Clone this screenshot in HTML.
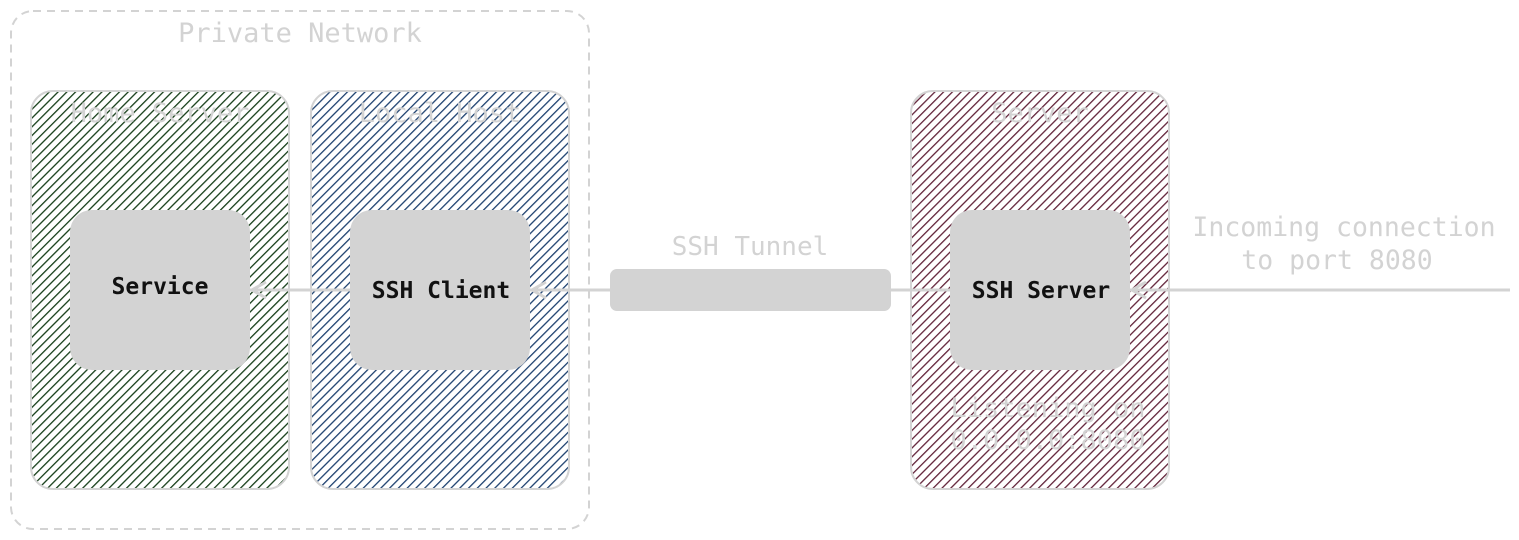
<!DOCTYPE html>
<html><head><meta charset="utf-8"><style>
html,body{margin:0;padding:0;background:#fff;}
svg{display:block;}
text{font-family:"DejaVu Sans Mono","Liberation Mono",monospace;}
</style></head><body>
<svg width="1519" height="540" viewBox="0 0 1519 540" xmlns="http://www.w3.org/2000/svg">
<defs>
<pattern id="hg" patternUnits="userSpaceOnUse" width="6.2" height="6.2" patternTransform="rotate(45)"><rect x="0" y="0" width="1.3" height="6.2" fill="#173f1a"/></pattern>
<pattern id="hb" patternUnits="userSpaceOnUse" width="6.2" height="6.2" patternTransform="rotate(45)"><rect x="0" y="0" width="1.3" height="6.2" fill="#1f4270"/></pattern>
<pattern id="hm" patternUnits="userSpaceOnUse" width="6.2" height="6.2" patternTransform="rotate(45)"><rect x="0" y="0" width="1.3" height="6.2" fill="#62243a"/></pattern>
</defs>
<rect x="11" y="11" width="578" height="518" rx="22" fill="none" stroke="#d3d3d3" stroke-width="2" stroke-dasharray="8,6"/>
<text x="300" y="42" font-size="27" fill="#d3d3d3" text-anchor="middle">Private Network</text>

<rect x="31" y="91" width="258" height="398" rx="22" fill="url(#hg)" stroke="#d3d3d3" stroke-width="2"/>
<rect x="311" y="91" width="258" height="398" rx="22" fill="url(#hb)" stroke="#d3d3d3" stroke-width="2"/>
<rect x="911" y="91" width="258" height="398" rx="22" fill="url(#hm)" stroke="#d3d3d3" stroke-width="2"/>
<text x="160" y="122" font-size="27" fill="#d3d3d3" text-anchor="middle">Home Server</text>
<text x="440" y="122" font-size="27" fill="#d3d3d3" text-anchor="middle">Local Host</text>
<text x="1040" y="122" font-size="27" fill="#d3d3d3" text-anchor="middle">Server</text>
<text x="1048" y="417" font-size="27" fill="#d3d3d3" text-anchor="middle">Listening on</text>
<text x="1048" y="449" font-size="27" fill="#d3d3d3" text-anchor="middle">0.0.0.0:8080</text>

<g stroke="#d3d3d3" stroke-width="3" fill="none">
<line x1="250" y1="290" x2="350" y2="290"/>
<line x1="530" y1="290" x2="612" y2="290"/>
<line x1="888" y1="290" x2="950" y2="290"/>
<line x1="1130" y1="290" x2="1510" y2="290"/>
<polyline points="266,282 252,290 266,298"/>
<polyline points="546,282 532,290 546,298"/>
<polyline points="1146,282 1132,290 1146,298"/>
</g>

<rect x="70" y="210" width="180" height="160" rx="22" fill="#d3d3d3"/>
<rect x="350" y="210" width="180" height="160" rx="22" fill="#d3d3d3"/>
<rect x="950" y="210" width="180" height="160" rx="22" fill="#d3d3d3"/>
<rect x="610" y="269" width="281" height="42" rx="7" fill="#d3d3d3"/>

<text x="160" y="294" font-size="23" font-weight="bold" fill="#111" text-anchor="middle">Service</text>
<text x="441" y="298" font-size="23" font-weight="bold" fill="#111" text-anchor="middle">SSH Client</text>
<text x="1041" y="298" font-size="23" font-weight="bold" fill="#111" text-anchor="middle">SSH Server</text>

<text x="750" y="255" font-size="26" fill="#d3d3d3" text-anchor="middle">SSH Tunnel</text>
<text x="1344" y="236" font-size="26.5" fill="#d3d3d3" text-anchor="middle">Incoming connection</text>
<text x="1337" y="269" font-size="26.5" fill="#d3d3d3" text-anchor="middle">to port 8080</text>
</svg>
</body></html>
